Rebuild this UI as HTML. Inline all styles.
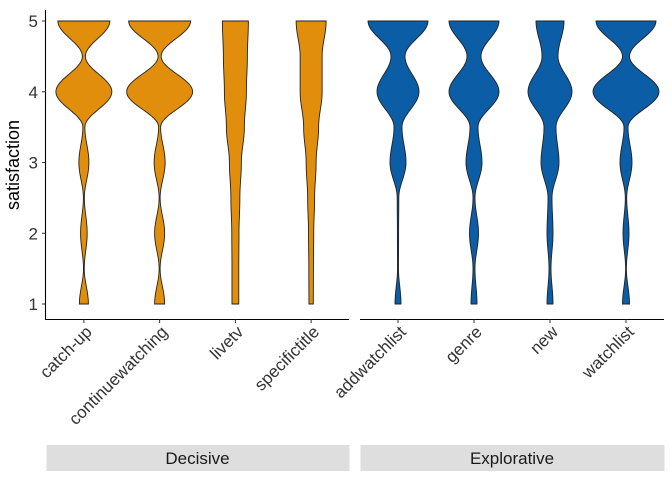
<!DOCTYPE html>
<html><head><meta charset="utf-8"><style>
html,body{margin:0;padding:0;background:#fff;}
svg{display:block;font-family:"Liberation Sans",Arial,sans-serif;}
</style></head><body>
<svg id="chart" width="672" height="480"></svg>
<script>
// Data: satisfaction levels (y) and violin half-widths (density, in relative units) at each level
const levels = [1, 1.5, 2, 2.5, 3, 3.5, 4, 4.5, 5];
const panels = ["Decisive", "Explorative"];
const decisiveCats = ["catch-up", "continuewatching", "livetv", "specifictitle"];
const explorativeCats = ["addwatchlist", "genre", "new", "watchlist"];
const dCatchUp = [4.5, 0.4, 3.3, 0.5, 5, 1, 28, 1.5, 26];
const dContinue = [5, 0.5, 5, 0.5, 5.5, 1, 33, 1.5, 31];
const dLivetv = [3.4, 3.4, 3.6, 4.5, 6, 9, 11, 12, 13];
const dSpecific = [2.2, 2.3, 2.6, 3.5, 5, 7.5, 11, 11, 15];
const dAddwatch = [3, 0.5, 0.6, 0.8, 8, 4, 21, 7, 30];
const dGenre = [3, 1, 4.5, 1, 8, 4, 25, 7, 25];
const dNew = [3, 1, 3, 2, 9, 6, 22, 8, 14];
const dWatchlist = [3.5, 0.4, 3, 0.7, 6, 2, 33, 3.5, 30];
const yTicks = [1, 2, 3, 4, 5];

const decisiveDens = [dCatchUp, dContinue, dLivetv, dSpecific];
const explorativeDens = [dAddwatch, dGenre, dNew, dWatchlist];

const NS = "http://www.w3.org/2000/svg";
const svg = document.getElementById("chart");
function mk(tag, attrs, parent) {
  const e = document.createElementNS(NS, tag);
  for (const k in attrs) e.setAttribute(k, attrs[k]);
  (parent || svg).appendChild(e);
  return e;
}
const yTop = 21, yBot = 304;
function yScale(v) { return yBot - (v - 1) * (yBot - yTop) / 4; }
const panelX = [[46, 349], [360, 664]];
function xScale(p, i) {
  const [a, b] = panelX[p];
  const step = (b - a) / 4;
  return a + step * (i + 0.5);
}
function wScale(d) { return d; }

const yAxis = mk("line", {x1: 45.5, x2: 45.5, y1: 10, y2: 320, stroke: "#000", "stroke-width": 1.1});


yTicks.forEach(t => {
  const tk = mk("line", {x1: 42, x2: 45.5, y1: yScale(t), y2: yScale(t), stroke: "#333", "stroke-width": 1});
  
  
  const lb = mk("text", {x: 38, y: yScale(t) + 6, "text-anchor": "end", "font-size": 17, fill: "#333"});
  lb.textContent = t;
  
  
});
const yt = mk("text", {x: 0, y: 0, transform: "translate(19,165) rotate(-90)", "text-anchor": "middle", "font-size": 18, fill: "#000"});
yt.textContent = "satisfaction";



function violinPath(cx, dens) {
  const N = 16;
  const right = [], left = [];
  for (let s = 0; s < levels.length - 1; s++) {
    for (let k = 0; k < N; k++) {
      const t = k / N;
      const mu = (1 - Math.cos(t * Math.PI)) / 2;
      const v = levels[s] + (levels[s + 1] - levels[s]) * t;
      const w = wScale(dens[s] * (1 - mu) + dens[s + 1] * mu);
      right.push([cx + w, yScale(v)]);
      left.push([cx - w, yScale(v)]);
    }
  }
  const last = levels.length - 1;
  right.push([cx + wScale(dens[last]), yScale(levels[last])]);
  left.push([cx - wScale(dens[last]), yScale(levels[last])]);
  let d = "M" + right.map(p => p[0].toFixed(2) + "," + p[1].toFixed(2)).join("L");
  d += "L" + left.reverse().map(p => p[0].toFixed(2) + "," + p[1].toFixed(2)).join("L") + "Z";
  return d;
}

const allCats = [decisiveCats, explorativeCats];
const allDens = [decisiveDens, explorativeDens];
const colors = ["#E08E0B", "#0B5DA5"];
for (let p = 0; p < 2; p++) {
  const bl = mk("line", {x1: panelX[p][0], x2: panelX[p][1], y1: 319.5, y2: 319.5, stroke: "#000", "stroke-width": 1.1});
  
  
  allCats[p].forEach((c, i) => {
    const cx = xScale(p, i);
    const v = mk("path", {d: violinPath(cx, allDens[p][i]), fill: colors[p], stroke: "#222", "stroke-width": 0.9});
    
    
    const tk = mk("line", {x1: cx, x2: cx, y1: 319.5, y2: 323, stroke: "#333", "stroke-width": 1});
    
    
    const lb = mk("text", {x: 0, y: 0, transform: "translate(" + (cx + 9) + ",333) rotate(-45)", "text-anchor": "end", "font-size": 17, fill: "#333"});
    lb.textContent = c;
    
    
  });
  const sb = mk("rect", {x: panelX[p][0] + 0.5, y: 445, width: panelX[p][1] - panelX[p][0], height: 26, fill: "#dedede"});
  
  
  const st = mk("text", {x: (panelX[p][0] + panelX[p][1]) / 2, y: 464, "text-anchor": "middle", "font-size": 17, fill: "#1a1a1a"});
  st.textContent = panels[p];
  
  
}
</script>
</body></html>
